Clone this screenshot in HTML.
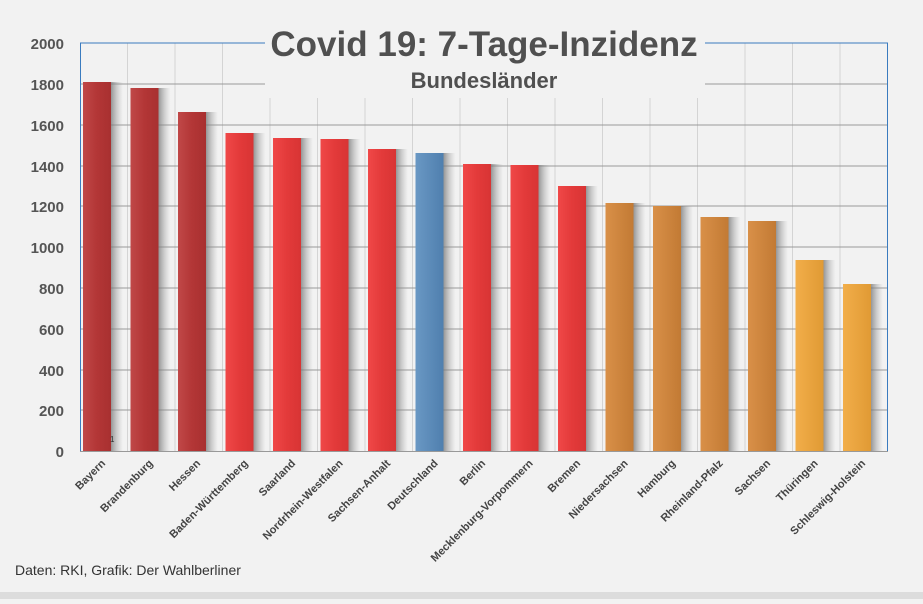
<!DOCTYPE html>
<html><head><meta charset="utf-8"><style>
body{margin:0;width:923px;height:599px;background:#f2f2f2;overflow:hidden;font-family:"Liberation Sans",sans-serif}
</style></head><body>
<svg width="923" height="599" xmlns="http://www.w3.org/2000/svg" font-family="Liberation Sans, sans-serif">
<defs>
<linearGradient id="dr" x1="0" x2="1"><stop offset="0" stop-color="#c04848"/><stop offset="0.5" stop-color="#b33636"/><stop offset="1" stop-color="#a83030"/></linearGradient>
<linearGradient id="r" x1="0" x2="1"><stop offset="0" stop-color="#f04848"/><stop offset="0.5" stop-color="#e33a3a"/><stop offset="1" stop-color="#d83434"/></linearGradient>
<linearGradient id="b" x1="0" x2="1"><stop offset="0" stop-color="#6a98c4"/><stop offset="1" stop-color="#4f7fae"/></linearGradient>
<linearGradient id="o" x1="0" x2="1"><stop offset="0" stop-color="#d99048"/><stop offset="1" stop-color="#c27a34"/></linearGradient>
<linearGradient id="lo" x1="0" x2="1"><stop offset="0" stop-color="#f2ae4a"/><stop offset="1" stop-color="#e09a34"/></linearGradient>
<linearGradient id="sh" x1="0" x2="1"><stop offset="0" stop-color="#777" stop-opacity="0.75"/><stop offset="1" stop-color="#aaa" stop-opacity="0"/></linearGradient>
</defs>
<rect x="0" y="592" width="923" height="7" fill="#dcdcdc"/>
<g stroke="#d4d4d4" stroke-width="1">
<line x1="127.5" y1="43" x2="127.5" y2="451"/><line x1="175" y1="43" x2="175" y2="451"/><line x1="222.5" y1="43" x2="222.5" y2="451"/><line x1="270" y1="43" x2="270" y2="451"/><line x1="317.5" y1="43" x2="317.5" y2="451"/><line x1="365" y1="43" x2="365" y2="451"/><line x1="412.5" y1="43" x2="412.5" y2="451"/><line x1="460" y1="43" x2="460" y2="451"/><line x1="507.5" y1="43" x2="507.5" y2="451"/><line x1="555" y1="43" x2="555" y2="451"/><line x1="602.5" y1="43" x2="602.5" y2="451"/><line x1="650" y1="43" x2="650" y2="451"/><line x1="697.5" y1="43" x2="697.5" y2="451"/><line x1="745" y1="43" x2="745" y2="451"/><line x1="792.5" y1="43" x2="792.5" y2="451"/><line x1="840" y1="43" x2="840" y2="451"/>
</g>
<g stroke="#999" stroke-width="1">
<line x1="80" y1="84" x2="888" y2="84"/><line x1="80" y1="125" x2="888" y2="125"/><line x1="80" y1="166" x2="888" y2="166"/><line x1="80" y1="206" x2="888" y2="206"/><line x1="80" y1="247" x2="888" y2="247"/><line x1="80" y1="288" x2="888" y2="288"/><line x1="80" y1="329" x2="888" y2="329"/><line x1="80" y1="370" x2="888" y2="370"/><line x1="80" y1="410" x2="888" y2="410"/>
</g>
<rect x="265" y="30" width="440" height="68" fill="#f2f2f2"/>
<g id="bars">
<rect x="111" y="82" width="12" height="369" fill="url(#sh)"/><rect x="83" y="82" width="28" height="369" fill="url(#dr)"/>
<rect x="158.5" y="88" width="12" height="363" fill="url(#sh)"/><rect x="130.5" y="88" width="28" height="363" fill="url(#dr)"/>
<rect x="206" y="112" width="12" height="339" fill="url(#sh)"/><rect x="178" y="112" width="28" height="339" fill="url(#dr)"/>
<rect x="253.5" y="133" width="12" height="318" fill="url(#sh)"/><rect x="225.5" y="133" width="28" height="318" fill="url(#r)"/>
<rect x="301" y="138" width="12" height="313" fill="url(#sh)"/><rect x="273" y="138" width="28" height="313" fill="url(#r)"/>
<rect x="348.5" y="139" width="12" height="312" fill="url(#sh)"/><rect x="320.5" y="139" width="28" height="312" fill="url(#r)"/>
<rect x="396" y="149" width="12" height="302" fill="url(#sh)"/><rect x="368" y="149" width="28" height="302" fill="url(#r)"/>
<rect x="443.5" y="153" width="12" height="298" fill="url(#sh)"/><rect x="415.5" y="153" width="28" height="298" fill="url(#b)"/>
<rect x="491" y="164" width="12" height="287" fill="url(#sh)"/><rect x="463" y="164" width="28" height="287" fill="url(#r)"/>
<rect x="538.5" y="165" width="12" height="286" fill="url(#sh)"/><rect x="510.5" y="165" width="28" height="286" fill="url(#r)"/>
<rect x="586" y="186" width="12" height="265" fill="url(#sh)"/><rect x="558" y="186" width="28" height="265" fill="url(#r)"/>
<rect x="633.5" y="203" width="12" height="248" fill="url(#sh)"/><rect x="605.5" y="203" width="28" height="248" fill="url(#o)"/>
<rect x="681" y="206" width="12" height="245" fill="url(#sh)"/><rect x="653" y="206" width="28" height="245" fill="url(#o)"/>
<rect x="728.5" y="217" width="12" height="234" fill="url(#sh)"/><rect x="700.5" y="217" width="28" height="234" fill="url(#o)"/>
<rect x="776" y="221" width="12" height="230" fill="url(#sh)"/><rect x="748" y="221" width="28" height="230" fill="url(#o)"/>
<rect x="823.5" y="260" width="12" height="191" fill="url(#sh)"/><rect x="795.5" y="260" width="28" height="191" fill="url(#lo)"/>
<rect x="871" y="284" width="12" height="167" fill="url(#sh)"/><rect x="843" y="284" width="28" height="167" fill="url(#lo)"/>
</g>
<g stroke="#3a7bbf" stroke-width="1" fill="none">
<polyline points="265,43 80.5,43 80.5,451"/><polyline points="705,43 887.5,43 887.5,451"/>
</g>
<line x1="80" y1="451.5" x2="888" y2="451.5" stroke="#999"/>
<text x="110" y="442" font-size="8" fill="#333">1</text>
<text x="484" y="56" font-size="35" font-weight="bold" fill="#505050" text-anchor="middle">Covid 19: 7-Tage-Inzidenz</text>
<text x="484" y="88" font-size="22" font-weight="bold" fill="#505050" text-anchor="middle">Bundesländer</text>
<g font-size="15" font-weight="bold" fill="#555" text-anchor="end">
<text x="64" y="49">2000</text><text x="64" y="90">1800</text><text x="64" y="131">1600</text><text x="64" y="172">1400</text><text x="64" y="212">1200</text><text x="64" y="253">1000</text><text x="64" y="294">800</text><text x="64" y="335">600</text><text x="64" y="376">400</text><text x="64" y="416">200</text><text x="64" y="457">0</text>
</g>
<g font-size="11" font-weight="bold" fill="#444" text-anchor="end">
<text transform="translate(106,464) rotate(-45)">Bayern</text>
<text transform="translate(153.5,464) rotate(-45)">Brandenburg</text>
<text transform="translate(201,464) rotate(-45)">Hessen</text>
<text transform="translate(248.5,464) rotate(-45)">Baden-Württemberg</text>
<text transform="translate(296,464) rotate(-45)">Saarland</text>
<text transform="translate(343.5,464) rotate(-45)">Nordrhein-Westfalen</text>
<text transform="translate(391,464) rotate(-45)">Sachsen-Anhalt</text>
<text transform="translate(438.5,464) rotate(-45)">Deutschland</text>
<text transform="translate(486,464) rotate(-45)">Berlin</text>
<text transform="translate(533.5,464) rotate(-45)">Mecklenburg-Vorpommern</text>
<text transform="translate(581,464) rotate(-45)">Bremen</text>
<text transform="translate(628.5,464) rotate(-45)">Niedersachsen</text>
<text transform="translate(676,464) rotate(-45)">Hamburg</text>
<text transform="translate(723.5,464) rotate(-45)">Rheinland-Pfalz</text>
<text transform="translate(771,464) rotate(-45)">Sachsen</text>
<text transform="translate(818.5,464) rotate(-45)">Thüringen</text>
<text transform="translate(866,464) rotate(-45)">Schleswig-Holstein</text>
</g>
<text x="15" y="575" font-size="14" fill="#333">Daten: RKI, Grafik: Der Wahlberliner</text>
</svg>
</body></html>
